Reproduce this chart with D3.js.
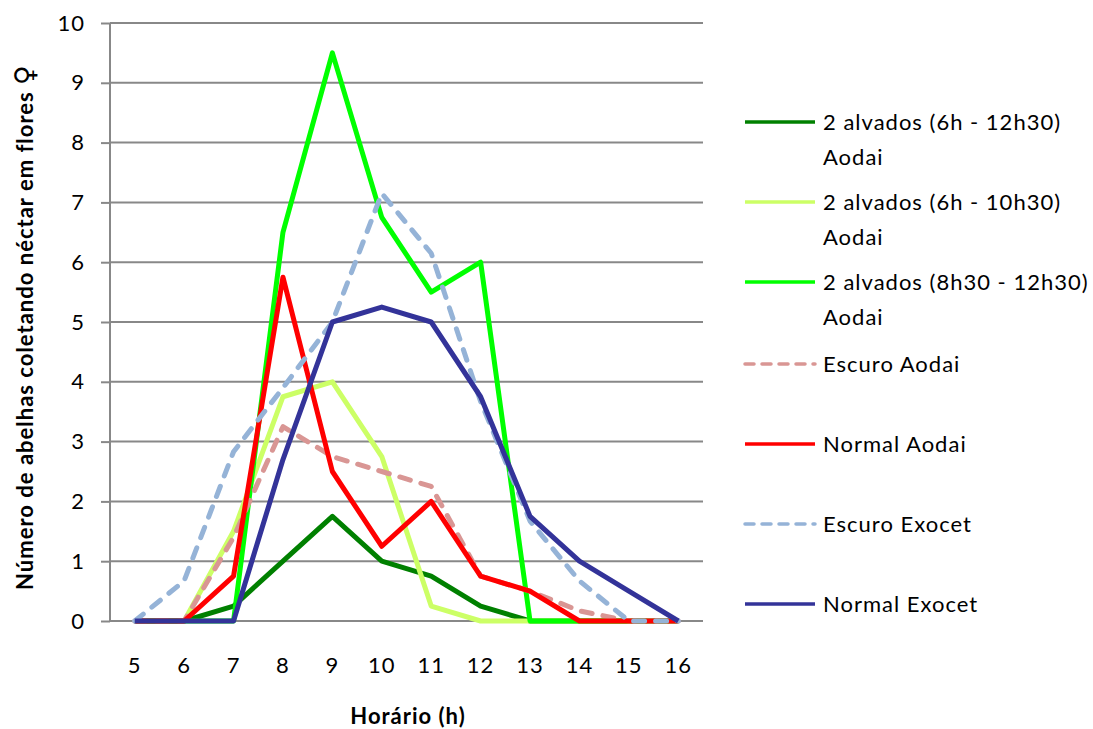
<!DOCTYPE html>
<html>
<head>
<meta charset="utf-8">
<script src="https://cdn.jsdelivr.net/npm/d3@7"></script>
<style>
  html, body { margin: 0; padding: 0; background: #fff; }
  svg text { font-family: "Lato", "Noto Sans", sans-serif; fill: #000; }
</style>
</head>
<body>
<svg id="chart" width="1093" height="729"></svg>
<script>
// Hours of observation (x categories)
const hours = [5, 6, 7, 8, 9, 10, 11, 12, 13, 14, 15, 16];
const yTicks = [0, 1, 2, 3, 4, 5, 6, 7, 8, 9, 10];

// Mean number of bees collecting nectar per hour, one array per treatment
const alvados6h1230 = [0, 0, 0.25, 1, 1.75, 1, 0.75, 0.25, 0, 0, 0, 0];
const alvados6h1030 = [0, 0, 1.5, 3.75, 4, 2.75, 0.25, 0, 0, 0, 0, 0];
const alvados830h1230 = [0, 0, 0, 6.5, 9.5, 6.75, 5.5, 6, 0, 0, 0, 0];
const escuroAodai = [0, 0, 1.4, 3.25, 2.75, 2.5, 2.25, 0.75, 0.5, 0.17, 0, 0];
const normalAodai = [0, 0, 0.75, 5.75, 2.5, 1.25, 2, 0.75, 0.5, 0, 0, 0];
const escuroExocet = [0, 0.67, 2.83, 3.9, 5, 7.15, 6.15, 3.67, 1.67, 0.67, 0, 0];
const normalExocet = [0, 0, 0, 2.7, 5, 5.25, 5, 3.75, 1.75, 1, 0.5, 0];

const seriesNames = [
  ["2 alvados (6h - 12h30)", "Aodai"],
  ["2 alvados (6h - 10h30)", "Aodai"],
  ["2 alvados (8h30 - 12h30)", "Aodai"],
  ["Escuro Aodai"],
  ["Normal Aodai"],
  ["Escuro Exocet"],
  ["Normal Exocet"]
];
const seriesValues = [alvados6h1230, alvados6h1030, alvados830h1230,
                      escuroAodai, normalAodai, escuroExocet, normalExocet];
const seriesColors = ["#008000", "#CCFF66", "#00FF00", "#D99694", "#FF0000", "#95B3D7", "#333399"];
const seriesDashed = [false, false, false, true, false, true, false];

const series = seriesNames.map((name, i) => ({
  name, values: seriesValues[i], color: seriesColors[i], dashed: seriesDashed[i]
}));

const svg = d3.select("#chart");
const plot = { left: 110, right: 703, top: 23, bottom: 621 };

const x = d3.scaleBand().domain(hours).range([plot.left, plot.right]);
const y = d3.scaleLinear().domain([0, 10]).range([plot.bottom, plot.top]);
const cx = h => x(h) + x.bandwidth() / 2;

// Horizontal gridlines
svg.append("g")
  .selectAll("line")
  .data(yTicks)
  .join("line")
  .attr("x1", plot.left).attr("x2", plot.right)
  .attr("y1", d => y(d)).attr("y2", d => y(d))
  .attr("stroke", "#888").attr("stroke-width", 2);

// Y axis with outward ticks
const yAxis = svg.append("g")
  .attr("transform", `translate(${plot.left},0)`)
  .call(d3.axisLeft(y).tickValues(yTicks).tickSize(9).tickPadding(16).tickFormat(d3.format("d")));
yAxis.selectAll("path, line").attr("stroke", "#888").attr("stroke-width", 2);
yAxis.select(".domain").attr("d", `M0,${plot.top}V${plot.bottom}`);
yAxis.selectAll("text").attr("font-size", 22).attr("font-family", "Lato")
  .attr("letter-spacing", 1).attr("fill", "#000");

// X axis labels (no axis line, gridline at 0 serves as baseline)
const xAxis = svg.append("g")
  .attr("transform", `translate(0,${plot.bottom})`)
  .call(d3.axisBottom(x).tickSize(0).tickPadding(36));
xAxis.select(".domain").remove();
xAxis.selectAll("text").attr("font-size", 22).attr("font-family", "Lato")
  .attr("letter-spacing", 1).attr("fill", "#000");

// Series lines
const line = d3.line()
  .x((d, i) => cx(hours[i]))
  .y(d => y(d));

svg.append("g")
  .selectAll("path")
  .data(series)
  .join("path")
  .attr("d", d => line(d.values))
  .attr("fill", "none")
  .attr("stroke", d => d.color)
  .attr("stroke-width", 5)
  .attr("stroke-linejoin", "round")
  .attr("stroke-linecap", d => d.dashed ? "round" : "butt")
  .attr("stroke-dasharray", d => d.dashed ? "11,11" : null);

// Axis titles
svg.append("text")
  .attr("x", 408).attr("y", 724)
  .attr("text-anchor", "middle")
  .attr("font-size", 22).attr("font-weight", "bold")
  .attr("letter-spacing", 1)
  .text("Horário (h)");

const yTitle = svg.append("text")
  .attr("transform", "translate(33,327) rotate(-90)")
  .attr("text-anchor", "middle")
  .attr("font-size", 22).attr("font-weight", "bold")
  .attr("letter-spacing", 1);
yTitle.append("tspan").text("Número de abelhas coletando néctar em flores ");
yTitle.append("tspan")
  .attr("font-family", "DejaVu Sans")
  .attr("font-size", 27)
  .attr("dy", 1)
  .text("♀");

// Legend
const legendY = [122, 202, 282, 364, 444, 524, 604];
const legend = svg.append("g")
  .selectAll("g")
  .data(series)
  .join("g")
  .attr("transform", (d, i) => `translate(745,${legendY[i]})`);

legend.append("line")
  .attr("x1", 0).attr("x2", 70).attr("y1", 0).attr("y2", 0)
  .attr("stroke", d => d.color)
  .attr("stroke-width", 3.5)
  .attr("stroke-linecap", d => d.dashed ? "round" : "butt")
  .attr("stroke-dasharray", d => d.dashed ? "9,8" : null);

legend.append("text")
  .attr("x", 78)
  .attr("font-size", 22)
  .attr("letter-spacing", 1)
  .selectAll("tspan")
  .data(d => d.name)
  .join("tspan")
  .attr("x", 78)
  .attr("y", (d, i) => i * 35)
  .attr("dy", "0.35em")
  .text(d => d);
</script>
</body>
</html>
